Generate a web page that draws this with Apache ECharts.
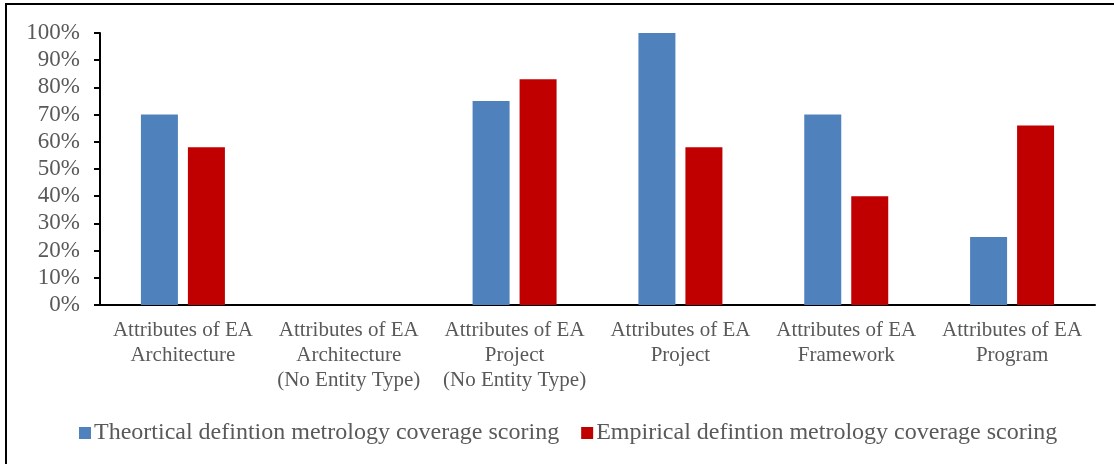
<!DOCTYPE html>
<html>
<head>
<meta charset="utf-8">
<script src="https://cdn.jsdelivr.net/npm/echarts@6/dist/echarts.min.js"></script>
<style>
html,body{margin:0;padding:0;background:#fff;}
#c{width:1114px;height:464px;}
</style>
</head>
<body>
<div id="c"></div>
<script>
const categories = [
  "Attributes of EA\nArchitecture",
  "Attributes of EA\nArchitecture\n(No Entity Type)",
  "Attributes of EA\nProject\n(No Entity Type)",
  "Attributes of EA\nProject",
  "Attributes of EA\nFramework",
  "Attributes of EA\nProgram"
];
const theoretical = [70, 0, 75, 100, 70, 25];
const empirical = [58, 0, 83, 58, 40, 66];
const seriesNames = ["Theortical defintion metrology coverage scoring", "Empirical defintion metrology coverage scoring"];

const font = "'Liberation Serif', 'Times New Roman', serif";
const chart = echarts.init(document.getElementById('c'));
chart.setOption({
  animation: false,
  backgroundColor: '#fff',
  textStyle: { fontFamily: font },
  graphic: [{
    type: 'rect',
    shape: { x: 6, y: 4, width: 1200, height: 600 },
    style: { fill: 'none', stroke: '#000', lineWidth: 2 },
    silent: true
  }],
  grid: { left: 100, right: 19, top: 33, bottom: 159, containLabel: false },
  legend: {
    left: 74, top: 416,
    itemWidth: 12, itemHeight: 12, itemGap: 22,
    icon: 'rect',
    textStyle: { fontFamily: font, fontSize: 24, color: '#595959', padding: [0, 0, 0, -2] },
    data: seriesNames
  },
  xAxis: {
    type: 'category',
    data: categories,
    axisLine: { lineStyle: { color: '#000', width: 2 } },
    axisTick: { show: false },
    axisLabel: { interval: 0, fontFamily: font, fontSize: 21, color: '#595959', lineHeight: 25, margin: 13 }
  },
  yAxis: {
    type: 'value', min: 0, max: 100, interval: 10,
    axisLine: { show: true, lineStyle: { color: '#000', width: 2 } },
    axisTick: { show: true, length: 6, lineStyle: { color: '#000', width: 2 } },
    splitLine: { show: false },
    axisLabel: { formatter: '{value}%', fontFamily: font, fontSize: 23, color: '#595959', margin: 20 }
  },
  series: [
    { name: seriesNames[0], type: 'bar', data: theoretical, barWidth: 37, barGap: '27%',
      itemStyle: { color: '#4F81BD' } },
    { name: seriesNames[1], type: 'bar', data: empirical, barWidth: 37, barGap: '27%',
      itemStyle: { color: '#C00000' } }
  ]
});
</script>
</body>
</html>
